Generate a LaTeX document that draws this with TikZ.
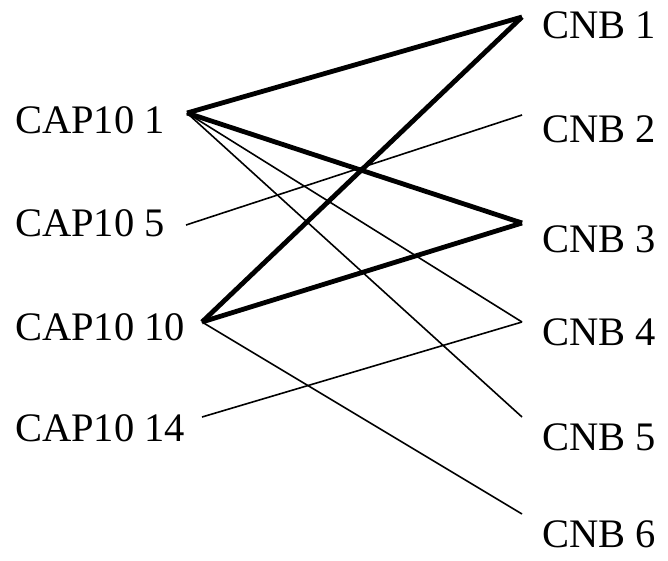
\documentclass[tikz,border=0pt]{standalone}
\usepackage{fontspec}
\setmainfont{Liberation Serif}
\usepackage{tikz}

\begin{document}
\begin{tikzpicture}[x=1pt, y=-1pt,
  every node/.style={font=\fontsize{40.5}{44}\selectfont, inner sep=0pt, anchor=base west},
  heavy/.style={line width=4.8pt},
  light/.style={line width=1.6pt}]
  \useasboundingbox (0,0) rectangle (668,560);

  % Left labels
  \node (capA) at (15,133) {CAP10 1};
  \node (capB) at (15,236) {CAP10 5};
  \node (capC) at (15,340) {CAP10 10};
  \node (capD) at (15,441) {CAP10 14};
  \coordinate (pA) at (187,113);
  \coordinate (pB) at (186,225);
  \coordinate (pC) at (202,322);
  \coordinate (pD) at (202,417);

  % Right labels
  \node (cnbA) at (542,38) {CNB 1};
  \node (cnbB) at (542,142) {CNB 2};
  \node (cnbC) at (542,252) {CNB 3};
  \node (cnbD) at (542,345) {CNB 4};
  \node (cnbE) at (542,450) {CNB 5};
  \node (cnbF) at (542,547) {CNB 6};
  \coordinate (qA) at (522,17);
  \coordinate (qB) at (522,115);
  \coordinate (qC) at (522,223);
  \coordinate (qD) at (522,322);
  \coordinate (qE) at (522,417);
  \coordinate (qF) at (522,514);

  % Thin links
  \draw[light] (pA) -- (qD);
  \draw[light] (pA) -- (qE);
  \draw[light] (pB) -- (qB);
  \draw[light] (pC) -- (qF);
  \draw[light] (pD) -- (qD);

  % Heavy links
  \draw[heavy] (pA) -- (qA);
  \draw[heavy] (pA) -- (qC);
  \draw[heavy] (pC) -- (qA);
  \draw[heavy] (pC) -- (qC);
\end{tikzpicture}
\end{document}
